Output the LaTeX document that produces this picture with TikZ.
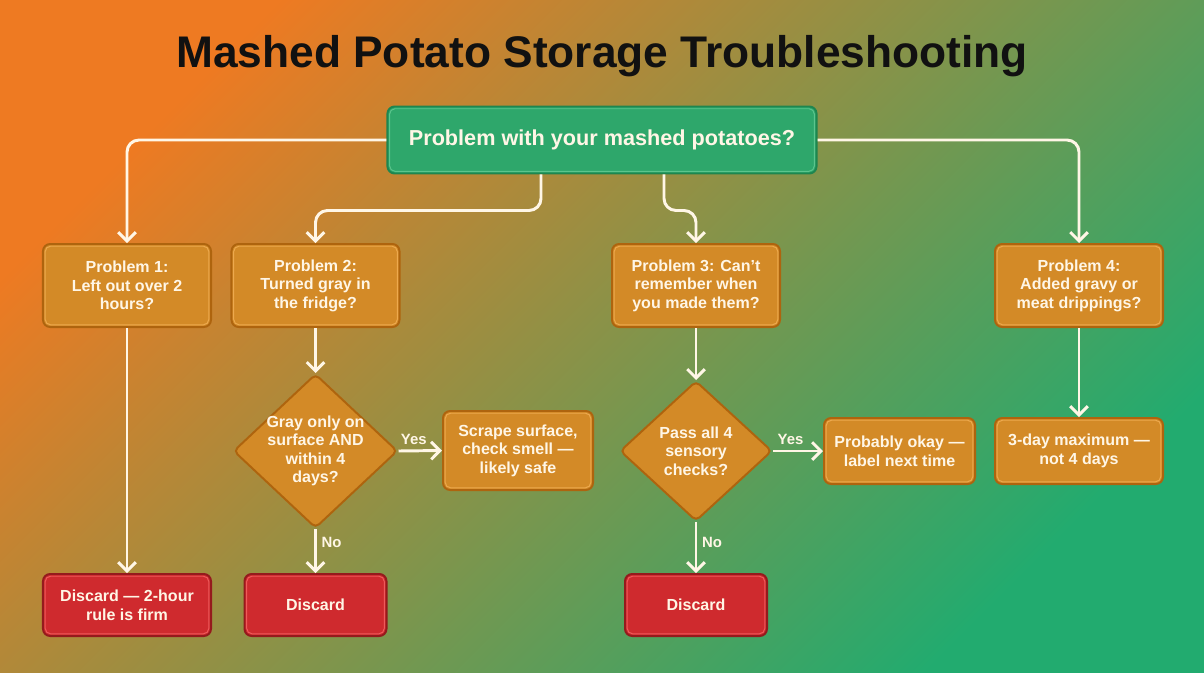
\documentclass[tikz,border=0pt]{standalone}
\usepackage{fontspec}
\setmainfont{Liberation Sans}
\usetikzlibrary{arrows.meta,positioning,calc,shapes.geometric}
\definecolor{MPBgOrange}{HTML}{EE7A22}
\definecolor{MPBgOlive}{HTML}{9C9844}
\definecolor{MPBgGreen}{HTML}{22AB6F}
\definecolor{MPOrange}{HTML}{D38A27}
\definecolor{MPOrangeEdge}{HTML}{AE640E}
\definecolor{MPOrangeGlint}{HTML}{EDA94E}
\definecolor{MPRed}{HTML}{CF2A2E}
\definecolor{MPRedEdge}{HTML}{951A1D}
\definecolor{MPRedGlint}{HTML}{EE5B5B}
\definecolor{MPGreen}{HTML}{2EA76B}
\definecolor{MPGreenEdge}{HTML}{1E8650}
\definecolor{MPGreenGlint}{HTML}{5CC58D}
\definecolor{MPText}{HTML}{FFF6E6}
\definecolor{MPInk}{HTML}{111111}
\tikzset{
  flow/.style={-{Straight Barb[length=2.2mm,width=4.4mm]},MPText,line width=2.1pt,
               rounded corners=3mm},
  glint/.style={path picture={\draw[#1,line width=.7pt,rounded corners=1.3mm]
      ([shift={(1.6pt,-1.6pt)}]path picture bounding box.north west) rectangle
      ([shift={(-1.6pt,1.6pt)}]path picture bounding box.south east);}},
  box/.style={draw=MPOrangeEdge,line width=1.4pt,fill=MPOrange,rounded corners=1.8mm,
              text=MPText,align=center,inner sep=1mm,minimum width=4.2cm,minimum height=2.075cm,
              font=\fontsize{11.4}{13.2}\selectfont\bfseries,glint=MPOrangeGlint},
  boxred/.style={box,draw=MPRedEdge,fill=MPRed,glint=MPRedGlint},
  boxgreen/.style={box,draw=MPGreenEdge,fill=MPGreen,glint=MPGreenGlint,
                   minimum width=10.725cm,minimum height=1.675cm,
                   font=\fontsize{15.4}{18}\selectfont\bfseries},
  decision/.style={draw=MPOrangeEdge,line width=1.4pt,fill=MPOrange,diamond,rounded corners=1.2mm,
                   text=MPText,align=center,inner sep=-20pt,
                   font=\fontsize{11.4}{13.2}\selectfont\bfseries},
  answer/.style={text=MPText,font=\fontsize{10.6}{12}\selectfont\bfseries},
  headline/.style={text=MPInk,font=\fontsize{31.5}{36}\selectfont\bfseries},
}

\begin{document}
\begin{tikzpicture}[x=.025cm,y=-.025cm]
  % background, it also fixes the size of the page
  \shade[top color=MPBgOrange,middle color=MPBgOlive,bottom color=MPBgGreen,shading angle=45]
    (0,0) rectangle (1204,672);
  \node[headline] (title) at (602,56) {Mashed Potato Storage Troubleshooting};

  % --- start ---
  \node[boxgreen] (top) at (602,140) {Problem with your mashed potatoes?};

  % --- the four problems ---
  \node[box] (p1) at (127,285.5) {Problem 1:\\Left out over 2\\hours?};
  \node[box] (p2) at (315.5,285.5) {Problem 2:\\Turned gray in\\the fridge?};
  \node[box] (p3) at (696,285.5) {Problem 3: Can't\\remember when\\you made them?};
  \node[box] (p4) at (1079,285.5) {Problem 4:\\Added gravy or\\meat drippings?};

  % --- checks ---
  \node[decision,minimum width=4.1cm,minimum height=3.85cm] (gray) at (315.5,451)
    {Gray only on\\surface AND\\within 4\\days?};
  \node[decision,minimum width=3.8cm,minimum height=3.5cm] (sense) at (696,451)
    {Pass all 4\\sensory\\checks?};

  % --- outcomes ---
  \node[box,minimum width=3.75cm,minimum height=1.975cm] (scrape) at (518,450.5)
    {Scrape surface,\\check smell —\\likely safe};
  \node[box,minimum width=3.775cm,minimum height=1.65cm] (okay) at (899.5,451)
    {Probably okay —\\label next time};
  \node[box,minimum height=1.65cm] (three) at (1079,451) {3-day maximum —\\not 4 days};
  \node[boxred,minimum height=1.55cm] (bin1) at (127,605) {Discard — 2-hour\\rule is firm};
  \node[boxred,minimum width=3.55cm,minimum height=1.55cm] (bin2) at (315.5,605) {Discard};
  \node[boxred,minimum width=3.55cm,minimum height=1.55cm] (bin3) at (696,605) {Discard};

  % --- connectors ---
  \draw[flow] (top.west) -| (p1.north);
  \draw[flow] (top.east) -| (p4.north);
  \draw[flow] ($(top.south)+(-61,0)$) -- ++(0,36) -| (p2.north);
  \draw[flow] ($(top.south)+(62,0)$) -- ++(0,36) -| (p3.north);
  \draw[flow] (p1.south) -- (bin1.north);
  \draw[flow] (p2.south) -- (gray.north);
  \draw[flow] (gray.east) -- node[answer,above,pos=.35] {Yes} (scrape.west);
  \draw[flow] (gray.south) -- node[answer,right,pos=.3] {No} (bin2.north);
  \draw[flow] (p3.south) -- (sense.north);
  \draw[flow] (sense.east) -- node[answer,above,pos=.35] {Yes} (okay.west);
  \draw[flow] (sense.south) -- node[answer,right,pos=.4] {No} (bin3.north);
  \draw[flow] (p4.south) -- (three.north);
\end{tikzpicture}
\end{document}
